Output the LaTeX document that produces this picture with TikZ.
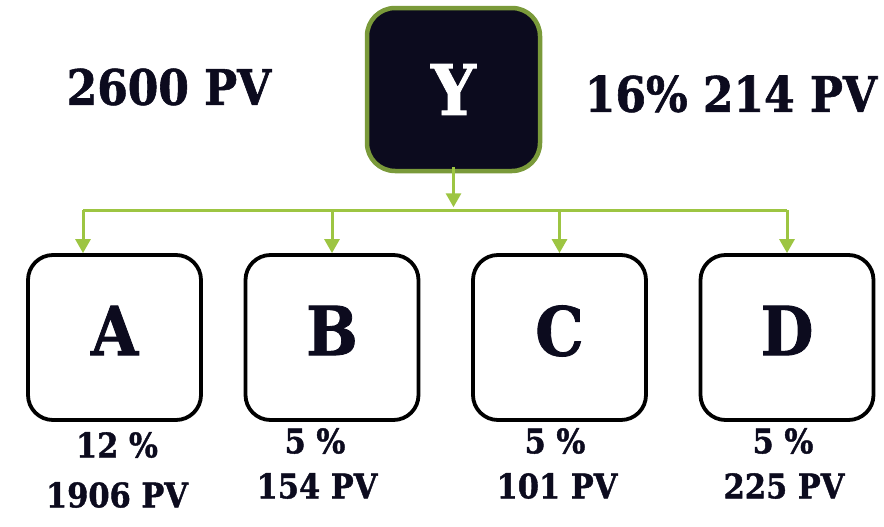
\documentclass[tikz,border=0pt]{standalone}
\usepackage{fontspec}
\setmainfont[BoldFeatures={FakeBold=1.2}]{DejaVu Serif Condensed}
\usepackage{tikz}
\usetikzlibrary{arrows.meta}
\definecolor{navy}{HTML}{0C0B1E}
\definecolor{olive}{HTML}{7A9A3A}
\definecolor{lime}{HTML}{9DC542}

\begin{document}
\begin{tikzpicture}[
  top/.style={draw=olive,line width=4.5bp,fill=navy,rounded corners=28bp,minimum width=173bp,minimum height=163bp,text=white,font=\bfseries\fontsize{70}{70}\selectfont},
  leaf/.style={draw=black,line width=3.8bp,fill=white,rounded corners=25bp,minimum width=173bp,minimum height=165bp,text=navy,text depth=14bp,font=\bfseries\fontsize{68}{68}\selectfont},
  big/.style={text=navy,font=\bfseries\fontsize{49}{49}\selectfont,inner sep=0pt},
  small/.style={text=navy,font=\bfseries\fontsize{34}{34}\selectfont,inner sep=0pt},
  feed/.style={draw=lime,line width=3bp},
  tip/.style={-{Triangle[width=15bp,length=14bp]}}
]
\useasboundingbox (0bp,0bp) rectangle (884bp,-527bp);
\node (Y) at (453.5bp,-89.5bp)[top] {Y};
\node (A) at (114.5bp,-337.5bp)[leaf] {A};
\node (B) at (332bp,-337.5bp)[leaf] {B};
\node (C) at (559.5bp,-337.5bp)[leaf] {C};
\node (D) at (787bp,-337.5bp)[leaf] {D};
\node (total) at (169bp,-87bp)[big] {2600 PV};
\node (share) at (731bp,-94bp)[big] {16\% 214 PV};
\node (Apct) at (117bp,-445bp)[small] {12 \%};
\node (Apv) at (117bp,-495bp)[small] {1906 PV};
\node (Bpct) at (315bp,-441bp)[small] {5 \%};
\node (Bpv) at (317bp,-486bp)[small] {154 PV};
\node (Cpct) at (555bp,-441bp)[small] {5 \%};
\node (Cpv) at (557bp,-486bp)[small] {101 PV};
\node (Dpct) at (783bp,-441bp)[small] {5 \%};
\node (Dpv) at (784bp,-486bp)[small] {225 PV};
\coordinate (busA) at (83bp,-210bp);
\coordinate (busD) at (787bp,-210bp);
\draw [feed,tip] ([yshift=6bp]Y.south) -- ([yshift=-34bp]Y.south);
\draw [feed] (busA) -- (busD);
\draw [feed,tip] (busA) -- (busA |- A.north);
\draw [feed,tip] (B.north |- busA) -- (B.north);
\draw [feed,tip] (C.north |- busA) -- (C.north);
\draw [feed,tip] (busD) -- (D.north);
\end{tikzpicture}
\end{document}
